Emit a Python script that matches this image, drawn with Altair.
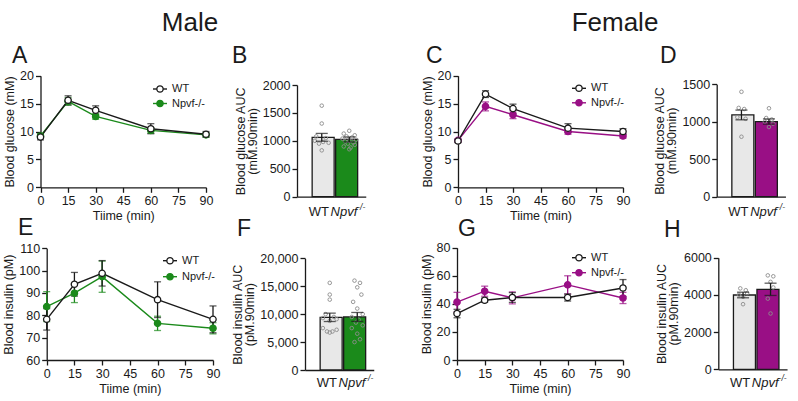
import altair as alt
import pandas as pd

W, H = 798, 401
FONT = "Liberation Sans"
INK = "#1a1a1a"
GREEN = "#1b8a1b"
PURPLE = "#990f85"
BAR_GREY = "#e8e8e8"
DOT_GREY = "#8c8c8c"

# ---------------- data ----------------
time_min = [0, 15, 30, 60, 90]
time_ticks = [0, 15, 30, 45, 60, 75, 90]

# A: male blood glucose (mM)
a_wt = [9.0, 15.6, 13.8, 10.5, 9.5]
a_wt_sem = [0.5, 0.8, 0.8, 0.9, 0.5]
a_ko = [9.2, 15.4, 12.7, 10.2, 9.4]
a_ko_sem = [0.4, 0.7, 0.5, 0.5, 0.4]

# C: female blood glucose (mM)
c_wt = [8.3, 16.7, 14.1, 10.6, 10.0]
c_wt_sem = [0.3, 0.6, 0.8, 0.8, 0.5]
c_ko = [8.4, 14.5, 13.0, 10.0, 9.2]
c_ko_sem = [0.3, 0.8, 0.7, 0.5, 0.4]

# E: male blood insulin (pM)
e_wt = [78.2, 93.9, 98.8, 87.0, 78.2]
e_wt_sem = [4.8, 5.3, 5.7, 8.0, 6.0]
e_ko = [83.9, 89.9, 97.3, 76.4, 74.2]
e_ko_sem = [6.7, 4.2, 7.0, 3.2, 2.5]

# G: female blood insulin (pM)
g_wt = [33.1, 42.6, 44.5, 44.5, 51.3]
g_wt_sem = [3.0, 1.5, 3.5, 2.5, 6.0]
g_ko = [41.2, 49.0, 44.3, 53.5, 44.2]
g_ko_sem = [7.0, 3.6, 4.3, 6.5, 4.0]

# B: male glucose AUC (mM.90min)
b_means = [1063, 1025]
b_sems = [70, 45]
b_wt_dots = [1630, 1310, 1080, 1050, 1000, 980, 965, 950, 830]
b_wt_jit = [0.0, 0.0, -0.2, 0.15, -0.25, 0.05, 0.25, -0.1, 0.0]
b_ko_dots = [1180, 1130, 1100, 1080, 1060, 1040, 1020, 1000, 990, 970, 950, 930, 900, 880, 850]
b_ko_jit = [0.0, -0.2, 0.2, -0.1, 0.1, -0.25, 0.25, 0.0, -0.15, 0.15, -0.05, 0.2, -0.2, 0.05, 0.0]

# D: female glucose AUC (mM.90min)
d_means = [1091, 1003]
d_sems = [65, 35]
d_wt_dots = [1400, 1185, 1170, 1060, 1040, 800]
d_wt_jit = [0.0, -0.1, 0.1, -0.15, 0.15, 0.0]
d_ko_dots = [1180, 1050, 1030, 1000, 975, 930]
d_ko_jit = [0.0, -0.1, 0.1, -0.15, 0.15, 0.0]

# F: male insulin AUC (pM.90min)
f_means = [9430, 9500]
f_sems = [750, 800]
f_wt_dots = [15600, 13500, 12600, 10000, 9500, 9300, 9100, 8800, 7500, 7200, 6900, 6900, 6700]
f_wt_jit = [0.0, 0.0, 0.0, -0.15, 0.15, -0.25, 0.25, 0.0, -0.25, 0.25, -0.1, 0.1, 0.0]
f_ko_dots = [16000, 15600, 14800, 13500, 12200, 11000, 10000, 9500, 9000, 8500, 8000, 7500, 6500, 5500, 5000]
f_ko_jit = [-0.1, 0.1, 0.0, 0.15, -0.15, 0.0, 0.2, -0.2, 0.05, -0.05, 0.2, -0.2, 0.0, 0.1, -0.1]

# H: female insulin AUC (pM.90min)
h_means = [3995, 4300]
h_sems = [150, 330]
h_wt_dots = [4350, 4250, 4100, 4000, 3900, 3500]
h_wt_jit = [-0.1, 0.1, 0.15, -0.15, 0.0, 0.0]
h_ko_dots = [5050, 5000, 4700, 4400, 3800, 3000]
h_ko_jit = [-0.1, 0.1, 0.0, 0.1, -0.1, 0.0]

group_labels = ["WT", "Npvf"]


# ---------------- helpers ----------------
def lin(domain, rng):
    return alt.Scale(domain=domain, range=rng, nice=False, zero=False)


AXIS_STYLE = dict(
    grid=False, domainColor=INK, tickColor=INK, labelColor=INK, titleColor=INK,
    domainWidth=1.3, tickWidth=1.3, tickSize=5, labelFont=FONT, titleFont=FONT,
    labelFontSize=12.5, titleFontSize=12.5, titleFontWeight="normal",
    labelPadding=2, labelOverlap=False, labelFlush=False,
)


def y_axis(x_px, values, title, fmt="d"):
    return alt.Axis(orient="left", offset=-x_px, values=values, title=title,
                    format=fmt, titlePadding=3, titleLineHeight=12, **AXIS_STYLE)


def x_time_axis(y_px):
    return alt.Axis(orient="bottom", offset=y_px - H, values=time_ticks,
                    title="Tiime (min)", titlePadding=3, **AXIS_STYLE)


def x_bar_axis(y_px):
    return alt.Axis(orient="bottom", offset=y_px - H, ticks=False, labels=False,
                    title=None, **AXIS_STYLE)


def errorbars(df, xs, ys, color, cap):
    base = alt.Chart(df).transform_calculate(lo="datum.m - datum.s", hi="datum.m + datum.s")
    rule = base.mark_rule(color=color, strokeWidth=1.3).encode(
        x=alt.X("x:Q", scale=xs, axis=None),
        y=alt.Y("lo:Q", scale=ys, axis=None),
        y2="hi:Q",
    )
    caps = base.transform_fold(["lo", "hi"], as_=["end", "v"]).mark_tick(
        color=color, orient="horizontal", size=cap, thickness=1.3
    ).encode(
        x=alt.X("x:Q", scale=xs, axis=None),
        y=alt.Y("v:Q", scale=ys, axis=None),
    )
    return [rule, caps]


def line_panel(wt, wt_sem, ko, ko_sem, color, xr, yd, yr, yticks, ytitle):
    xs = lin([0, 90], xr)
    ys = lin(yd, yr)
    wt_df = pd.DataFrame({"x": time_min, "m": wt, "s": wt_sem})
    ko_df = pd.DataFrame({"x": time_min, "m": ko, "s": ko_sem})
    ko_line = alt.Chart(ko_df).mark_line(color=color, strokeWidth=1.4).encode(
        x=alt.X("x:Q", scale=xs, axis=x_time_axis(yr[0])),
        y=alt.Y("m:Q", scale=ys, axis=y_axis(xr[0], yticks, ytitle)),
    )
    wt_line = alt.Chart(wt_df).mark_line(color=INK, strokeWidth=1.4).encode(
        x=alt.X("x:Q", scale=xs, axis=None),
        y=alt.Y("m:Q", scale=ys, axis=None),
    )
    ko_pts = alt.Chart(ko_df).mark_point(
        shape="circle", size=40, filled=True, fill=color, stroke=color,
        strokeWidth=1.3, opacity=1
    ).encode(x=alt.X("x:Q", scale=xs, axis=None), y=alt.Y("m:Q", scale=ys, axis=None))
    wt_pts = alt.Chart(wt_df).mark_point(
        shape="circle", size=40, filled=True, fill="white", stroke=INK,
        strokeWidth=1.3, opacity=1
    ).encode(x=alt.X("x:Q", scale=xs, axis=None), y=alt.Y("m:Q", scale=ys, axis=None))
    return ([ko_line] + errorbars(ko_df, xs, ys, color, 7)
            + [wt_line] + errorbars(wt_df, xs, ys, INK, 7) + [ko_pts, wt_pts])


def bar_panel(means, sems, wt_dots, wt_jit, ko_dots, ko_jit, color,
              x0, yd, yr, yticks, ytitle, fmt, label_y):
    xs = lin([-0.9, 1.6], [x0, x0 + 68.75])
    ys = lin(yd, yr)
    bars = pd.DataFrame({"x": [0, 1], "m": means, "s": sems, "fill": [BAR_GREY, color]})
    bar = alt.Chart(bars).mark_bar(size=22, stroke=INK, strokeWidth=1.3).encode(
        x=alt.X("x:Q", scale=xs, axis=x_bar_axis(yr[0])),
        y=alt.Y("m:Q", scale=ys, axis=y_axis(x0, yticks, ytitle, fmt)),
        fill=alt.Fill("fill:N", scale=None),
    )
    dots = pd.DataFrame({
        "g": [0] * len(wt_dots) + [1] * len(ko_dots),
        "j": list(wt_jit) + list(ko_jit),
        "v": list(wt_dots) + list(ko_dots),
    })
    dot = alt.Chart(dots).transform_calculate(x="datum.g + datum.j").mark_point(
        shape="circle", size=13, filled=False, stroke=DOT_GREY, strokeWidth=0.9, opacity=1
    ).encode(x=alt.X("x:Q", scale=xs, axis=None), y=alt.Y("v:Q", scale=ys, axis=None))
    lab = pd.DataFrame({"x": [0, 1], "t": group_labels})
    wt_lab = alt.Chart(lab.iloc[[0]]).mark_text(
        font=FONT, fontSize=13, color=INK, baseline="middle", dx=-3
    ).encode(x=alt.X("x:Q", scale=xs, axis=None), y=alt.value(label_y), text="t:N")
    ko_lab = alt.Chart(lab.iloc[[1]]).mark_text(
        font=FONT, fontSize=13, fontStyle="italic", color=INK, baseline="middle",
        align="right", dx=8
    ).encode(x=alt.X("x:Q", scale=xs, axis=None), y=alt.value(label_y), text="t:N")
    sup = alt.Chart(pd.DataFrame({"x": [1], "t": ["-/-"]})).mark_text(
        font=FONT, fontSize=8.5, fontStyle="italic", color=INK, baseline="middle",
        align="left", dx=8, dy=-5
    ).encode(x=alt.X("x:Q", scale=xs, axis=None), y=alt.value(label_y), text="t:N")
    return [bar, dot] + errorbars(bars, xs, ys, INK, 12) + [wt_lab, ko_lab, sup]


def text_at(label, x, y, size, **kw):
    return alt.Chart(pd.DataFrame({"t": [label]})).mark_text(
        font=FONT, fontSize=size, color=INK, **kw
    ).encode(x=alt.value(x), y=alt.value(y), text="t:N")


def legend(x0, y0, dy, color):
    layers = []
    for i, (lab, fill, stroke) in enumerate([("WT", "white", INK), ("Npvf-/-", color, color)]):
        yy = y0 + i * dy
        d = pd.DataFrame({"t": [lab]})
        layers.append(alt.Chart(d).mark_rule(color=stroke, strokeWidth=1.4).encode(
            x=alt.value(x0 - 7), x2=alt.value(x0 + 7), y=alt.value(yy)))
        layers.append(alt.Chart(d).mark_point(
            shape="circle", size=40, filled=True, fill=fill, stroke=stroke,
            strokeWidth=1.3, opacity=1).encode(x=alt.value(x0), y=alt.value(yy)))
        layers.append(alt.Chart(d).mark_text(
            font=FONT, fontSize=11, color=INK, align="left", baseline="middle").encode(
            x=alt.value(x0 + 12), y=alt.value(yy), text="t:N"))
    return layers


# ---------------- panels ----------------
layers = []
layers += line_panel(a_wt, a_wt_sem, a_ko, a_ko_sem, GREEN, [40.5, 206], [0, 20],
                     [187.3, 75.7], [0, 5, 10, 15, 20], "Blood glucose (mM)")
layers += line_panel(c_wt, c_wt_sem, c_ko, c_ko_sem, PURPLE, [458, 623], [0, 20],
                     [187.3, 75.7], [0, 5, 10, 15, 20], "Blood glucose (mM)")
layers += line_panel(e_wt, e_wt_sem, e_ko, e_ko_sem, GREEN, [46.7, 213], [60, 110],
                     [360, 248.3], [60, 70, 80, 90, 100, 110], "Blood insulin (pM)")
layers += line_panel(g_wt, g_wt_sem, g_ko, g_ko_sem, PURPLE, [457, 623], [0, 80],
                     [360, 247.7], [0, 20, 40, 60, 80], "Blood insulin (pM)")

layers += bar_panel(b_means, b_sems, b_wt_dots, b_wt_jit, b_ko_dots, b_ko_jit, GREEN,
                    297, [0, 2000], [196.7, 85], [0, 500, 1000, 1500, 2000],
                    ["Blood glucose AUC", "(mM.90min)"], "d", 212)
layers += bar_panel(d_means, d_sems, d_wt_dots, d_wt_jit, d_ko_dots, d_ko_jit, PURPLE,
                    716.7, [0, 1500], [196.7, 84.3], [0, 500, 1000, 1500],
                    ["Blood glucose AUC", "(mM.90min)"], "d", 212)
layers += bar_panel(f_means, f_sems, f_wt_dots, f_wt_jit, f_ko_dots, f_ko_jit, GREEN,
                    305, [0, 20000], [370, 258.3], [0, 5000, 10000, 15000, 20000],
                    ["Blood insulin AUC", "(pM.90min)"], ",.0f", 383)
layers += bar_panel(h_means, h_sems, h_wt_dots, h_wt_jit, h_ko_dots, h_ko_jit, PURPLE,
                    718.3, [0, 6000], [369.3, 257.7], [0, 2000, 4000, 6000],
                    ["Blood insulin AUC", "(pM.90min)"], "d", 383)

layers += legend(160, 89, 14.5, GREEN)
layers += legend(579, 88.3, 14.5, PURPLE)
layers += legend(170, 260.7, 16, GREEN)
layers += legend(579, 257.7, 15, PURPLE)

# headings and panel letters
layers.append(text_at("Male", 190, 31, 26, align="center", baseline="alphabetic"))
layers.append(text_at("Female", 615, 31, 26, align="center", baseline="alphabetic"))
for letter, x, y in [("A", 12, 63), ("B", 232, 63), ("C", 426, 63), ("D", 660, 63),
                     ("E", 18, 235), ("F", 237, 236), ("G", 458, 236), ("H", 664, 237)]:
    layers.append(text_at(letter, x, y, 23, align="left", baseline="alphabetic"))

chart = alt.layer(*layers).resolve_scale(
    x="independent", y="independent"
).properties(
    width=W, height=H, padding=0, autosize="none", background="white"
).configure_view(stroke=None)

chart.save("out.html", embed_options={"renderer": "svg", "actions": False})
